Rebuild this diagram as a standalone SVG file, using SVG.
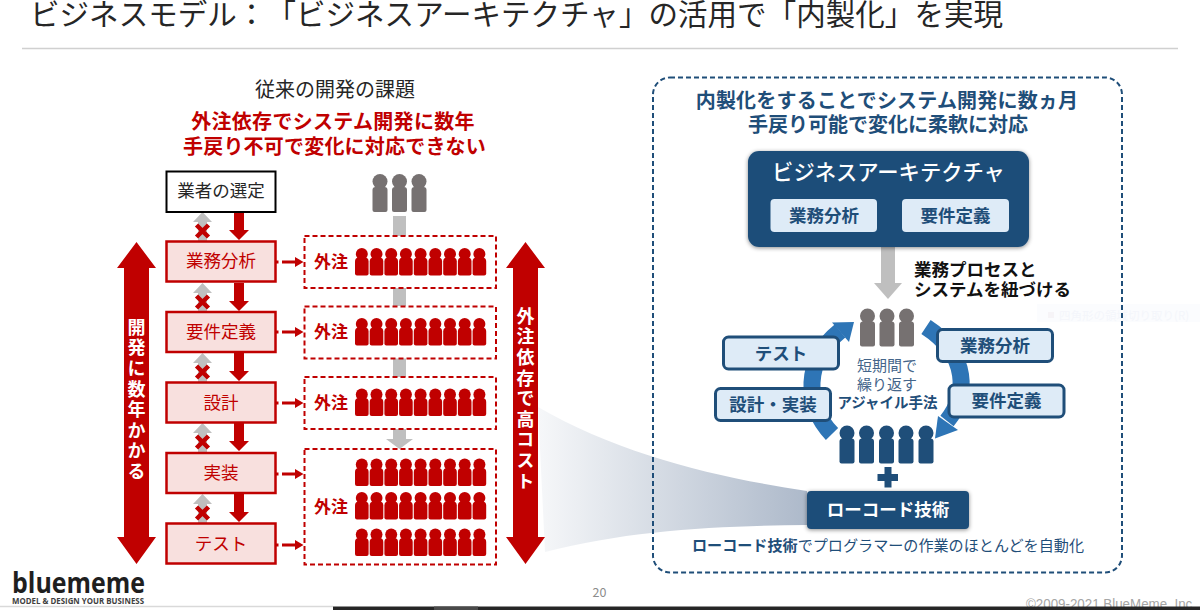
<svg xmlns="http://www.w3.org/2000/svg" xmlns:xlink="http://www.w3.org/1999/xlink" width="1200" height="610" viewBox="0 0 1200 610">
<style>
text{font-family:"Noto Sans CJK JP","Noto Sans",sans-serif;text-spacing-trim:space-all}
.m{text-anchor:middle}
.red{fill:#c00000}
.step{fill:#f8e0de;stroke:#c00000;stroke-width:2.5}
.steptxt{fill:#c00000;font-size:17.500px;text-anchor:middle}
.gout{fill:#c00000;font-size:17px;font-weight:700;text-anchor:middle}
.dash{fill:#fff;stroke:#c00000;stroke-width:2;stroke-dasharray:5 3}
.navy{fill:#1f4e79}
.lb{fill:#deebf7;stroke:#1f4e79;stroke-width:3}
.lbt{fill:#1f4e79;font-size:17.500px;font-weight:700;text-anchor:middle}
.vt{fill:#fff;font-size:18px;font-weight:700;writing-mode:vertical-rl;letter-spacing:2.600px;text-anchor:start}
</style>
<defs>
<linearGradient id="wedge" x1="505" y1="0" x2="807" y2="0" gradientUnits="userSpaceOnUse"><stop offset="0" stop-color="#fff"/><stop offset="1" stop-color="#adb9ca"/></linearGradient>
<filter id="sh" x="-10%" y="-10%" width="120%" height="125%"><feDropShadow dx="0" dy="1" stdDeviation="2" flood-color="#000" flood-opacity=".45"/></filter>
<g id="p"><circle cx="6.300" cy="6" r="6"/><path d="M3.500 9.500h5.600q4 0 4 4v12q0 2-2 2h-9.600q-2 0-2-2v-12q0-4 4-4z"/></g>
<g id="row"><use xlink:href="#p"/><use xlink:href="#p" x="14.700"/><use xlink:href="#p" x="29.400"/><use xlink:href="#p" x="44.100"/><use xlink:href="#p" x="58.800"/><use xlink:href="#p" x="73.500"/><use xlink:href="#p" x="88.200"/><use xlink:href="#p" x="102.900"/><use xlink:href="#p" x="117.600"/></g>
<g id="bp"><circle cx="7.500" cy="7.500" r="7.500"/><path d="M3 13h9q3 0 3 3v20q0 2-2 2h-11q-2 0-2-2v-20q0-3 3-3z"/></g>
<g id="back"><path d="M193 222l9.500-10 9.500 10h-5v19h-9v-19z" fill="#bfbfbf"/><path d="M196.500 225l12 12M208.500 225l-12 12" stroke="#c00000" stroke-width="4.500" fill="none"/></g>
<g id="fwd"><path d="M234 212h10v18h5l-10 10-10-10h5z" fill="#c00000"/></g>
<g id="out"><path d="M276 260.500h2.500v3h-2.500zM282 260.500h13v-3.500l8.500 5-8.500 5v-3.500h-13z" fill="#c00000"/></g>
</defs>

<rect width="1200" height="610" fill="#fff"/>
<path id="wedge-shape" d="M538 407C620 455 720 478 807 491V525C720 526 630 530 545 552Z" fill="url(#wedge)"/>
<g id="tooltip"><rect x="1037" y="304" width="163" height="18" fill="#fbfcfe"/><rect x="1048" y="312" width="6" height="6" fill="#f6f4f7"/><text x="1059" y="319.500" font-size="11.500" fill="#f4f6fb">四角形の領域切り取り(R)</text></g>

<g id="title">
<text x="30" y="24.500" font-size="29.500" fill="#262626" textLength="973" lengthAdjust="spacing">ビジネスモデル：「ビジネスアーキテクチャ」の活用で「内製化」を実現</text>
<path d="M22 48.500H1178" stroke="#d0d0d0" stroke-width="1.500"/>
</g>

<g id="left-heading">
<text x="335" y="97" class="m" font-size="20" fill="#262626">従来の開発の課題</text>
<text x="333" y="129" class="m red" font-size="20" font-weight="700" letter-spacing=".3">外注依存でシステム開発に数年</text>
<text x="334.500" y="154" class="m red" font-size="20" font-weight="700" letter-spacing=".2">手戻り不可で変化に対応できない</text>
</g>

<g id="connectors">
<use xlink:href="#fwd"/><use xlink:href="#fwd" y="71"/><use xlink:href="#fwd" y="141"/><use xlink:href="#fwd" y="211"/><use xlink:href="#fwd" y="282"/>
<use xlink:href="#back"/><use xlink:href="#back" y="71"/><use xlink:href="#back" y="141"/><use xlink:href="#back" y="211"/><use xlink:href="#back" y="282"/>
<use xlink:href="#out"/><use xlink:href="#out" y="70"/><use xlink:href="#out" y="141"/><use xlink:href="#out" y="212"/><use xlink:href="#out" y="283"/>
<path d="M393 216h13v20h-13zM393 288h13v18h-13zM393 358h13v19h-13zM393 429h13v10h7l-13.500 10-13.500-10h7z" fill="#bfbfbf"/>
<path d="M881 247h14v36h7l-14 16-14-16h7z" fill="#bfbfbf"/>
<path d="M832 434C804 405 804 360 840 331" fill="none" stroke="#2e75b6" stroke-width="17"/>
<path d="M832 322.500L854 322 849 342Z" fill="#2e75b6"/>
<path d="M926 327C969 355 968 395 947 421" fill="none" stroke="#2e75b6" stroke-width="17"/>
<path d="M935 438.500L938 416 958 430Z" fill="#2e75b6"/>
</g>

<g id="arrow-dev"><path d="M136.500 242L156 268H149V537H156L136.500 564 117 537H124V268H117Z" fill="#c00000"/>
<text x="136.500" y="318" class="vt">開発に数年かかる</text></g>
<g id="arrow-cost"><path d="M525.500 242L545 268H538V537H545L525.500 564 506 537H513V268H506Z" fill="#c00000"/>
<text x="525.500" y="307" class="vt">外注依存で高コスト</text></g>

<g id="select"><rect x="166.500" y="171.500" width="109" height="40.500" fill="#fff" stroke="#000" stroke-width="2"/><text x="221" y="197" class="m" font-size="17.500" fill="#262626">業者の選定</text></g>
<g id="s1"><rect x="166.500" y="241.500" width="109" height="40" class="step"/><text x="221" y="267" class="steptxt">業務分析</text></g>
<g id="s2"><rect x="166.500" y="312" width="109" height="40" class="step"/><text x="221" y="338" class="steptxt">要件定義</text></g>
<g id="s3"><rect x="166.500" y="382.500" width="109" height="40" class="step"/><text x="221" y="408.500" class="steptxt">設計</text></g>
<g id="s4"><rect x="166.500" y="453" width="109" height="40" class="step"/><text x="221" y="479" class="steptxt">実装</text></g>
<g id="s5"><rect x="166.500" y="523.500" width="109" height="40" class="step"/><text x="221" y="549.500" class="steptxt">テスト</text></g>

<g id="vendors" fill="#767171"><use xlink:href="#bp" x="372.500" y="174"/><use xlink:href="#bp" x="392" y="174"/><use xlink:href="#bp" x="411.500" y="174"/></g>

<g id="o1"><rect x="304.500" y="236" width="191.500" height="52" class="dash"/><text x="331" y="268" class="gout">外注</text><use xlink:href="#row" x="355.500" y="248" fill="#c00000"/></g>
<g id="o2"><rect x="304.500" y="306.500" width="191.500" height="52" class="dash"/><text x="331" y="338" class="gout">外注</text><use xlink:href="#row" x="355.500" y="318" fill="#c00000"/></g>
<g id="o3"><rect x="304.500" y="377" width="191.500" height="52" class="dash"/><text x="331" y="409" class="gout">外注</text><use xlink:href="#row" x="355.500" y="388.500" fill="#c00000"/></g>
<g id="o4"><rect x="304.500" y="449" width="191.500" height="115.500" class="dash"/><text x="331" y="513" class="gout">外注</text><use xlink:href="#row" x="355.500" y="458.500" fill="#c00000"/><use xlink:href="#row" x="355.500" y="492" fill="#c00000"/><use xlink:href="#row" x="355.500" y="528.500" fill="#c00000"/></g>

<rect id="panel" x="653" y="77.500" width="469" height="495" rx="17" fill="none" stroke="#1f4e79" stroke-width="2" stroke-dasharray="5 3"/>
<g id="right-heading" font-weight="700" font-size="20" fill="#1f4e79">
<text x="887" y="108" class="m" letter-spacing=".2">内製化をすることでシステム開発に数ヵ月</text>
<text x="888" y="132" class="m">手戻り可能で変化に柔軟に対応</text>
</g>
<g id="ba"><rect x="748" y="151" width="281" height="96" rx="11" class="navy" filter="url(#sh)"/>
<text x="888.500" y="180" class="m" fill="#fff" font-size="21.300" font-weight="500">ビジネスアーキテクチャ</text>
<rect x="770.500" y="199" width="106.500" height="33" rx="4" fill="#deebf7"/><text x="824" y="221.500" class="lbt">業務分析</text>
<rect x="902" y="199" width="107" height="33" rx="4" fill="#deebf7"/><text x="955.500" y="221.500" class="lbt">要件定義</text></g>
<g id="link-label" font-size="17.500" font-weight="700" fill="#111"><text x="914" y="276">業務プロセスと</text><text x="914" y="296">システムを紐づける</text></g>

<g id="team-top" fill="#767171"><use xlink:href="#bp" x="860" y="308.500"/><use xlink:href="#bp" x="879.500" y="308.500"/><use xlink:href="#bp" x="899" y="308.500"/></g>
<g id="team-bottom" fill="#1f4e79"><use xlink:href="#bp" x="839.500" y="425.500"/><use xlink:href="#bp" x="859" y="425.500"/><use xlink:href="#bp" x="879" y="425.500"/><use xlink:href="#bp" x="898.500" y="425.500"/><use xlink:href="#bp" x="918.500" y="425.500"/></g>
<g id="cycle-label" fill="#44658a" font-size="15" text-anchor="middle"><text x="887" y="371">短期間で</text><text x="887" y="390">繰り返す</text><text x="887.500" y="408" font-weight="700" fill="#1f4e79" font-size="14.500">アジャイル手法</text></g>
<g id="c-test"><rect x="723.500" y="337" width="115" height="32" rx="5" class="lb"/><text x="781" y="359.500" class="lbt">テスト</text></g>
<g id="c-impl"><rect x="715.500" y="388.500" width="115" height="32" rx="5" class="lb"/><text x="773" y="411" class="lbt">設計・実装</text></g>
<g id="c-ana"><rect x="937.500" y="329.500" width="115" height="32" rx="5" class="lb"/><text x="995" y="352" class="lbt">業務分析</text></g>
<g id="c-req"><rect x="949" y="385" width="115" height="32" rx="5" class="lb"/><text x="1006.500" y="407" class="lbt">要件定義</text></g>
<path id="plus" d="M884.500 467h7v7h6.500v7h-6.500v6.500h-7v-6.500h-7v-7h7z" fill="#1f4e79"/>
<g id="lowcode"><rect x="807" y="491" width="162" height="38" rx="4" class="navy" filter="url(#sh)"/><text x="888" y="516" class="m" fill="#fff" font-size="17.500" font-weight="700">ローコード技術</text></g>
<text id="lowcode-note" x="888" y="551" class="m" font-size="15.100" fill="#1f4e79"><tspan font-weight="700">ローコード技術</tspan>でプログラマーの作業のほとんどを自動化</text>

<g id="footer">
<text x="599.500" y="597" class="m" font-size="12.500" fill="#8c8c8c">20</text>
<text x="12" y="593" font-size="29" font-weight="700" fill="#1f1f1f" textLength="133" lengthAdjust="spacingAndGlyphs" style="font-family:'Open Sans',sans-serif">bluememe</text>
<text x="12" y="604" font-size="8.500" font-weight="700" fill="#404040" textLength="132" lengthAdjust="spacingAndGlyphs" style="font-family:'Open Sans',sans-serif">MODEL &amp; DESIGN YOUR BUSINESS</text>
<text x="1026" y="609" font-size="15" fill="#a6a6a6" textLength="170" lengthAdjust="spacingAndGlyphs" style="font-family:'Liberation Sans',sans-serif">©2009-2021 BlueMeme, Inc.</text>
<path d="M0 606.500H333" stroke="#d9d9d9" stroke-width="1.500"/>
<rect x="333" y="606.500" width="867" height="3.500" fill="#262626"/>
<rect x="434" y="606.500" width="44" height="3.500" fill="#4a4a4a"/>
</g>
</svg>
